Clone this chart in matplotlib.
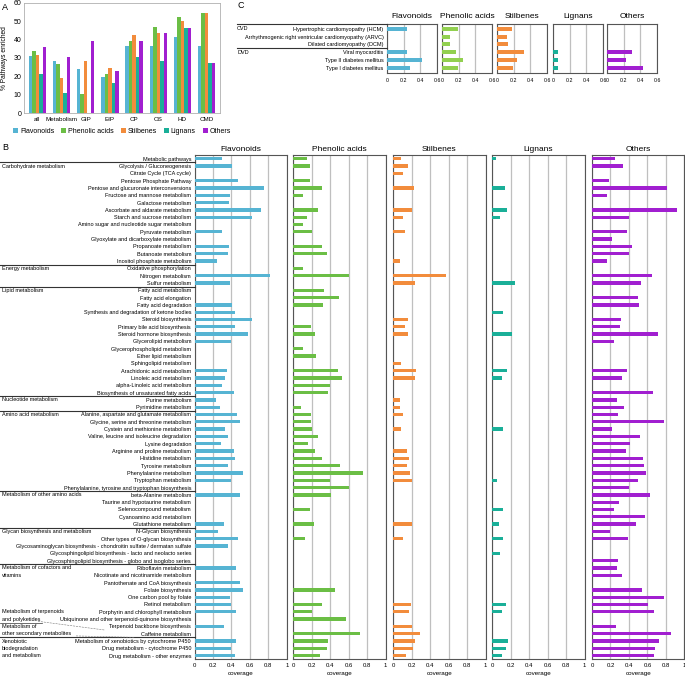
import numpy as np
import matplotlib
matplotlib.use("Agg")
import matplotlib.pyplot as plt
import matplotlib.transforms as mtransforms
from matplotlib.lines import Line2D

plt.rcParams['font.family'] = ['Liberation Sans', 'DejaVu Sans']

W, H = 685, 678

# ---------------- data ----------------
classes = ['Flavonoids', 'Phenolic acids', 'Stilbenes', 'Lignans', 'Others']
colors = ['#56B4D3', '#6BBE45', '#F28C3C', '#1AAF98', '#A11FD0']
colors_c = ['#56B4D3', '#92D050', '#F28C3C', '#1AAF98', '#A11FD0']

# panel A
a_groups = ['all', 'Metabolism', 'GIP', 'EIP', 'CP', 'OS', 'HD', 'CMD']
a_flav = [31.2, 28.6, 23.8, 19.8, 36.4, 36.4, 41.7, 36.4]
a_phen = [33.7, 26.8, 10.5, 21.2, 39.2, 47.0, 52.4, 54.5]
a_stil = [31.6, 19.0, 28.6, 24.6, 42.4, 43.5, 50.0, 54.5]
a_lign = [21.4, 11.0, 0.0, 16.2, 30.3, 28.2, 46.4, 27.3]
a_oth = [36.0, 30.5, 39.2, 23.0, 39.2, 43.5, 46.4, 27.3]

# panel B
pathways = [
    'Metabolic pathways', 'Glycolysis / Gluconeogenesis', 'Citrate Cycle (TCA cycle)',
    'Pentose Phosphate Pathway', 'Pentose and glucuronate interconversions',
    'Fructose and mannose metabolism', 'Galactose metabolism',
    'Ascorbate and aldarate metabolism', 'Starch and sucrose metabolism',
    'Amino sugar and nucleotide sugar metabolism', 'Pyruvate metabolism',
    'Glyoxylate and dicarboxylate metabolism', 'Propanoate metabolism',
    'Butanoate metabolism', 'Inositol phosphate metabolism',
    'Oxidative phosphorylation', 'Nitrogen metabolism', 'Sulfur metabolism',
    'Fatty acid metabolism', 'Fatty acid elongation', 'Fatty acid degradation',
    'Synthesis and degradation of ketone bodies', 'Steroid biosynthesis',
    'Primary bile acid biosynthesis', 'Steroid hormone biosynthesis',
    'Glycerolipid metabolism', 'Glycerophospholipid metabolism',
    'Ether lipid metabolism', 'Sphingolipid metabolism',
    'Arachidonic acid metabolism', 'Linoleic acid metabolism',
    'alpha-Linoleic acid metabolism', 'Biosynthesis of unsaturated fatty acids',
    'Purine metabolism', 'Pyrimidine metabolism',
    'Alanine, aspartate and glutamate metabolism',
    'Glycine, serine and threonine metabolism', 'Cystein and methionine metabolism',
    'Valine, leucine and isoleucine degradation', 'Lysine degradation',
    'Arginine and proline metabolism', 'Histidine metabolism', 'Tyrosine metabolism',
    'Phenylalanine metabolism', 'Tryptophan metabolism',
    'Phenylalanine, tyrosine and tryptophan biosynthesis', 'beta-Alanine metabolism',
    'Taurine and hypotaurine metabolism', 'Selenocompound metabolism',
    'Cyanoamino acid metabolism', 'Glutathione metabolism', 'N-Glycan biosynthesis',
    'Other types of O-glycan biosynthesis',
    'Glycosaminoglycan biosynthesis - chondroitin sulfate / dermatan sulfate',
    'Glycosphingolipid biosynthesis - lacto and neolacto series',
    'Glycosphingolipid biosynthesis - globo and isoglobo series',
    'Riboflavin metabolism', 'Nicotinate and nicotinamide metabolism',
    'Pantothenate and CoA biosynthesis', 'Folate biosynthesis',
    'One carbon pool by folate', 'Retinol metabolism',
    'Porphyrin and chlorophyll metabolism',
    'Ubiquinone and other terpenoid-quinone biosynthesis',
    'Terpenoid backbone biosynthesis', 'Caffeine metabolism',
    'Metabolism of xenobiotics by cytochrome P450',
    'Drug metabolism - cytochrome P450', 'Drug metabolism - other enzymes']

b_flav = [0.30, 0.41, 0, 0.475, 0.75, 0.38, 0.37, 0.725, 0.625, 0, 0.30, 0, 0.37, 0.365,
          0.24, 0, 0.82, 0.38, 0, 0, 0.41, 0.44, 0.625, 0.435, 0.58, 0.40, 0, 0, 0,
          0.35, 0.33, 0.30, 0.425, 0.23, 0.28, 0.465, 0.49, 0.33, 0.365, 0.29, 0.425,
          0.44, 0.36, 0.525, 0.40, 0, 0.49, 0, 0, 0, 0.315, 0.26, 0.475, 0.365, 0, 0,
          0.45, 0, 0.49, 0.53, 0.38, 0.40, 0.455, 0, 0.325, 0, 0.455, 0.40, 0.44]
b_phen = [0.15, 0.18, 0, 0.18, 0.31, 0.11, 0, 0.27, 0.15, 0.10, 0.20, 0, 0.31, 0.37,
          0, 0.10, 0.60, 0, 0.33, 0.50, 0.32, 0, 0, 0.19, 0.23, 0, 0.10, 0.25, 0,
          0.48, 0.53, 0.40, 0.38, 0, 0.086, 0.19, 0.19, 0.20, 0.27, 0.16, 0.24, 0.31,
          0.51, 0.76, 0.40, 0.60, 0.41, 0, 0.18, 0, 0.22, 0, 0.13, 0, 0, 0, 0, 0, 0,
          0.45, 0, 0.31, 0.205, 0.57, 0, 0.72, 0.38, 0.36, 0.285]
b_stil = [0.08, 0.155, 0.105, 0, 0.22, 0, 0, 0.20, 0.10, 0, 0.13, 0, 0, 0, 0.07, 0,
          0.57, 0.235, 0, 0, 0, 0, 0.16, 0.13, 0.16, 0, 0, 0, 0.08, 0.245, 0.24, 0, 0,
          0.07, 0.075, 0.10, 0, 0.085, 0, 0, 0.15, 0.175, 0.15, 0.18, 0.20, 0, 0, 0,
          0, 0, 0.205, 0, 0.11, 0, 0, 0, 0, 0, 0, 0, 0, 0.195, 0.165, 0, 0.205, 0.29,
          0.23, 0.21, 0.14]
b_lign = [0.035, 0, 0, 0, 0.14, 0, 0, 0.16, 0.08, 0, 0, 0, 0, 0, 0, 0, 0, 0.245, 0,
          0, 0, 0.12, 0, 0, 0.21, 0, 0, 0, 0, 0.16, 0.105, 0, 0, 0, 0, 0, 0, 0.12, 0,
          0, 0, 0, 0, 0, 0.05, 0, 0, 0, 0.12, 0, 0.07, 0, 0.12, 0, 0.08, 0, 0, 0, 0,
          0, 0, 0.15, 0.10, 0, 0, 0, 0.165, 0.145, 0.105]
b_oth = [0.245, 0.335, 0, 0.18, 0.81, 0.16, 0, 0.92, 0.40, 0, 0.375, 0.215, 0.43, 0.40,
         0.16, 0, 0.645, 0.53, 0, 0.50, 0.51, 0, 0.31, 0.30, 0.71, 0.235, 0, 0, 0,
         0.375, 0.33, 0, 0.66, 0.27, 0.35, 0.28, 0.78, 0.215, 0.52, 0.41, 0.365, 0.55,
         0.56, 0.59, 0.50, 0.40, 0.63, 0.295, 0.235, 0.57, 0.48, 0.195, 0.39, 0, 0,
         0.28, 0.27, 0.33, 0, 0.54, 0.775, 0.605, 0.67, 0, 0.265, 0.86, 0.73, 0.685, 0.67]

# (row index, text) for the category names on the left of panel B
group_text = [(1, 'Carbohydrate metabolism'), (15, 'Energy metabolism'),
              (18, 'Lipid metabolism'), (33, 'Nucleotide metabolism'),
              (35, 'Amino acid metabolism'), (46, 'Metabolism of other amino acids'),
              (51, 'Glycan biosynthesis and metabolism'),
              (56, 'Metabolism of cofactors and'), (57, 'vitamins'),
              (62, 'Metabolism of terpenoids'), (63, 'and polyketides'),
              (64, 'Metabolism of'), (65, 'other secondary metabolites'),
              (66, 'Xenobiotic'), (67, 'biodegradation'), (68, 'and metabolism')]
group_breaks = [1, 15, 18, 33, 35, 46, 51, 56, 66]

# panel C
diseases = ['Hypertrophic cardiomyopathy (HCM)',
            'Arrhythmogenic right ventricular cardiomyopathy (ARVC)',
            'Dilated cardiomyopathy (DCM)', 'Viral myocarditis',
            'Type II diabetes mellitus', 'Type I diabetes mellitus']
c_flav = [0.235, 0, 0, 0.235, 0.42, 0.28]
c_phen = [0.19, 0.095, 0.10, 0.17, 0.25, 0.19]
c_stil = [0.185, 0.125, 0.135, 0.32, 0.245, 0.19]
c_lign = [0, 0, 0, 0.06, 0.055, 0.065]
c_oth = [0, 0, 0, 0.30, 0.23, 0.43]


def ax_px(x0, y0, x1, y1):
    return fig.add_axes([x0 / W, 1 - y1 / H, (x1 - x0) / W, (y1 - y0) / H])


fig = plt.figure(figsize=(W / 100, H / 100), dpi=100)

# ---------------- panel A ----------------
axA = ax_px(24, 3, 220, 113)
a_vals = [a_flav, a_phen, a_stil, a_lign, a_oth]
x = np.arange(len(a_groups))
bw = 0.145
for i, vals in enumerate(a_vals):
    axA.bar(x + (i - 2) * bw, vals, bw, color=colors[i], label=classes[i])
axA.set_ylim(0, 60)
axA.set_xlim(-0.55, len(a_groups) - 0.45)
axA.set_yticks(range(0, 61, 10))
axA.set_xticks(x)
axA.set_xticklabels(a_groups, fontsize=4.5)
axA.tick_params(axis='y', labelsize=5, length=0, pad=2)
axA.tick_params(axis='x', length=0, pad=3)
axA.set_ylabel('% Pathways enriched', fontsize=4.8, labelpad=4)
for s in axA.spines.values():
    s.set_color('#b0b0b0')
    s.set_linewidth(0.6)
axA.legend(loc='upper center', bbox_to_anchor=(0.5, -0.11), ncol=5, fontsize=5,
           frameon=False, handlelength=0.7, handleheight=0.7, columnspacing=1.0,
           handletextpad=0.3, borderaxespad=0)
fig.text(2 / W, 1 - 7 / H, 'A', fontsize=6.5, va='center')

# ---------------- panel B ----------------
n = len(pathways)
rows = np.arange(n)
b_vals = [b_flav, b_phen, b_stil, b_lign, b_oth]
b_left = [194.5, 293.3, 393.3, 492.3, 592]
axes_b = []
for i, vals in enumerate(b_vals):
    ax = ax_px(b_left[i], 154.7, b_left[i] + 92.3, 659.3)
    ax.barh(rows, vals, height=0.45, color=colors[i], zorder=3)
    ax.set_xlim(0, 1)
    ax.set_ylim(n - 0.5, -0.55)
    ax.set_xticks([0, 0.2, 0.4, 0.6, 0.8, 1])
    ax.set_xticklabels(['0', '0.2', '0.4', '0.6', '0.8', '1'], fontsize=4.3)
    ax.tick_params(axis='x', length=0, pad=3)
    ax.grid(axis='x', color='#bfbfbf', linewidth=0.9, zorder=0)
    ax.set_xlabel('coverage', fontsize=4.5, labelpad=1.5)
    ax.set_title(classes[i], fontsize=6, pad=3)
    for s in ax.spines.values():
        s.set_color('#555555')
        s.set_linewidth(0.8)
    if i == 0:
        ax.set_yticks(rows)
        ax.set_yticklabels(pathways, fontsize=4.0)
        ax.tick_params(axis='y', length=0, pad=2.5)
    else:
        ax.set_yticks([])
    axes_b.append(ax)

trB = mtransforms.blended_transform_factory(fig.transFigure, axes_b[0].transData)
for r, t in group_text:
    fig.text(2 / W, r, t, fontsize=4.0, va='center', transform=trB)
for r in group_breaks:
    fig.add_artist(Line2D([0, b_left[0] / W], [r - 0.5, r - 0.5], transform=trB,
                          color='#333333', linewidth=0.8))
fig.add_artist(Line2D([0, 42 / W], [63.5, 63.5], transform=trB,
                      color='#333333', linewidth=0.5))
fig.add_artist(Line2D([38 / W, 105 / W], [63.3, 64.5], transform=trB,
                      color='#777777', linewidth=0.4, linestyle='--'))
fig.add_artist(Line2D([76 / W, 135 / W], [65.3, 65.5], transform=trB,
                      color='#777777', linewidth=0.4, linestyle='--'))
fig.text(2 / W, 1 - 147 / H, 'B', fontsize=6.5, va='center')

# ---------------- panel C ----------------
c_vals = [c_flav, c_phen, c_stil, c_lign, c_oth]
c_left = [387, 442, 497, 553, 607]
m = len(diseases)
crow = np.arange(m)
axes_c = []
for i, vals in enumerate(c_vals):
    ax = ax_px(c_left[i], 24, c_left[i] + 50, 72.7)
    ax.barh(crow, vals, height=0.5, color=colors_c[i], zorder=3)
    ax.set_xlim(0, 0.6)
    ax.set_ylim(m - 0.4, -0.6)
    ax.set_xticks([0, 0.2, 0.4, 0.6])
    ax.set_xticklabels(['0', '0.2', '0.4', '0.6'], fontsize=3.8)
    ax.tick_params(axis='x', length=0, pad=4)
    ax.grid(axis='x', color='#bfbfbf', linewidth=0.9, zorder=0)
    ax.set_title(classes[i], fontsize=6, pad=4)
    for s in ax.spines.values():
        s.set_color('#555555')
        s.set_linewidth(0.8)
    if i == 0:
        ax.set_yticks(crow)
        ax.set_yticklabels(diseases, fontsize=4.0)
        ax.tick_params(axis='y', length=0, pad=2.5)
    else:
        ax.set_yticks([])
    axes_c.append(ax)

trC = mtransforms.blended_transform_factory(fig.transFigure, axes_c[0].transData)
fig.text(237 / W, 0, 'CVD', fontsize=4.0, va='center', transform=trC)
fig.text(237 / W, 3, 'DVD', fontsize=4.0, va='center', transform=trC)
for r in [-0.6, 2.5]:
    fig.add_artist(Line2D([237 / W, c_left[0] / W], [r, r], transform=trC,
                          color='#333333', linewidth=0.8))
fig.text(237 / W, 1 - 5 / H, 'C', fontsize=6.5, va='center')

fig.savefig('out.png', dpi=100)
